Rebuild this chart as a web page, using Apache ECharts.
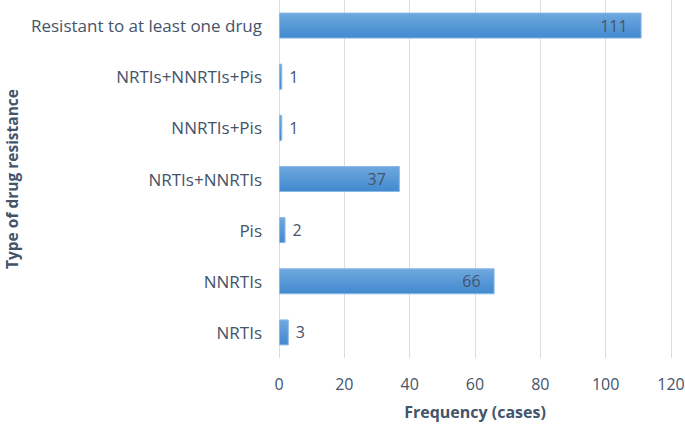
<!DOCTYPE html>
<html>
<head>
<meta charset="utf-8">
<script src="https://cdn.jsdelivr.net/npm/echarts@6/dist/echarts.min.js"></script>
<style>
  html, body { margin: 0; padding: 0; background: #fff; }
  #chart { width: 685px; height: 424px; }
</style>
</head>
<body>
<div id="chart"></div>
<script>
// Drug resistance types, bottom to top as drawn
var categories = ['NRTIs', 'NNRTIs', 'Pis', 'NRTIs+NNRTIs', 'NNRTIs+Pis', 'NRTIs+NNRTIs+Pis', 'Resistant to at least one drug'];
var cases = [3, 66, 2, 37, 1, 1, 111];

var ink = '#44546a';
var font = '"Open Sans", Lato, sans-serif';

var chart = echarts.init(document.getElementById('chart'), null, { renderer: 'svg' });
chart.setOption({
  animation: false,
  backgroundColor: '#fff',
  grid: { left: 279, right: 14, top: 0, bottom: 66, outerBoundsMode: 'none', containLabel: false },
  xAxis: {
    type: 'value',
    min: 0,
    max: 120,
    interval: 20,
    name: 'Frequency (cases)',
    nameLocation: 'middle',
    nameGap: 46,
    nameTextStyle: { color: ink, fontSize: 16, fontWeight: 'bold', fontFamily: font },
    axisLine: { show: false },
    axisTick: { show: false },
    axisLabel: { color: ink, fontSize: 16, fontFamily: font, margin: 18 },
    splitLine: { lineStyle: { color: '#d9dde6', width: 1 } }
  },
  yAxis: {
    type: 'category',
    data: categories,
    name: 'Type of drug resistance',
    nameLocation: 'middle',
    nameGap: 258,
    nameTextStyle: { color: ink, fontSize: 15.5, fontWeight: 'bold', fontFamily: font },
    axisLine: { show: false },
    axisTick: { show: false },
    axisLabel: { color: ink, fontSize: 17, fontFamily: font, margin: 17 }
  },
  series: [{
    type: 'bar',
    barWidth: 26,
    data: cases.map(function (v) {
      var inside = v > 10;
      return {
        value: v,
        label: {
          show: true,
          position: inside ? 'insideRight' : 'right',
          distance: inside ? 14 : 7,
          color: ink,
          fontSize: 16,
          fontFamily: font
        }
      };
    }),
    itemStyle: {
      color: new echarts.graphic.LinearGradient(0, 0, 0, 1, [
        { offset: 0, color: '#6fa8de' },
        { offset: 1, color: '#4189cf' }
      ]),
      borderColor: '#8ab9e6',
      borderWidth: 1
    }
  }]
});
</script>
</body>
</html>
